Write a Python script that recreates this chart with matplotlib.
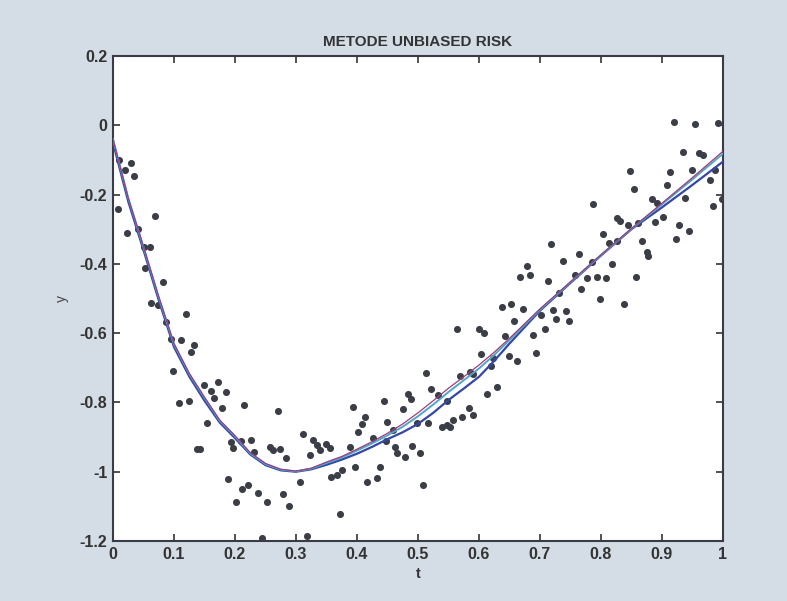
import numpy as np
import matplotlib
matplotlib.use("Agg")
import matplotlib.pyplot as plt

# noisy observations
t_obs = [0.009, 0.030, 0.019, 0.035, 0.008, 0.069, 0.023, 0.041, 0.051, 0.060,
         0.052, 0.082, 0.063, 0.073, 0.119, 0.087, 0.095, 0.111, 0.133, 0.128,
         0.098, 0.149, 0.172, 0.161, 0.166, 0.185, 0.178, 0.124, 0.108, 0.215,
         0.154, 0.137, 0.143, 0.193, 0.210, 0.197, 0.188, 0.212, 0.201,
         0.270, 0.394, 0.444, 0.413, 0.408, 0.402, 0.450, 0.227, 0.231, 0.312,
         0.257, 0.263, 0.273, 0.284, 0.328, 0.334, 0.339, 0.349, 0.355, 0.323,
         0.389, 0.426, 0.448, 0.307, 0.358, 0.367, 0.375, 0.397, 0.417, 0.432,
         0.437, 0.222, 0.238, 0.252, 0.278, 0.289, 0.372, 0.318, 0.244,
         0.637, 0.652, 0.657, 0.564, 0.600, 0.608, 0.643, 0.513, 0.603, 0.623,
         0.650, 0.662, 0.619, 0.569, 0.585, 0.591, 0.522, 0.533, 0.484, 0.488,
         0.475, 0.547, 0.630, 0.613, 0.583, 0.591, 0.572, 0.558, 0.539, 0.547,
         0.553, 0.459, 0.499, 0.517, 0.462, 0.465, 0.479, 0.491, 0.503, 0.508,
         0.787, 0.826, 0.831, 0.845, 0.861, 0.804, 0.718, 0.814, 0.827, 0.764,
         0.738, 0.785, 0.818, 0.679, 0.667, 0.684, 0.714, 0.757, 0.777, 0.794,
         0.808, 0.857, 0.768, 0.732, 0.798, 0.838, 0.673, 0.701, 0.722, 0.743,
         0.727, 0.748, 0.709, 0.688, 0.693,
         0.919, 0.954, 0.992, 0.934, 0.960, 0.968, 0.848, 0.914, 0.950, 0.987,
         0.978, 0.908, 0.854, 0.938, 0.998, 0.983, 0.883, 0.892, 0.901, 0.889,
         0.928, 0.945, 0.923, 0.868, 0.875, 0.877]
y_obs = [-0.100, -0.110, -0.129, -0.146, -0.243, -0.262, -0.310, -0.298, -0.350, -0.352,
         -0.413, -0.451, -0.512, -0.519, -0.545, -0.569, -0.616, -0.620, -0.635, -0.655,
         -0.708, -0.750, -0.742, -0.767, -0.786, -0.771, -0.815, -0.795, -0.803, -0.807,
         -0.860, -0.935, -0.935, -0.915, -0.911, -0.932, -1.021, -1.050, -1.087,
         -0.825, -0.812, -0.796, -0.841, -0.862, -0.885, -0.856, -0.909, -0.942, -0.892,
         -0.928, -0.937, -0.935, -0.961, -0.909, -0.923, -0.937, -0.921, -0.932, -0.952,
         -0.928, -0.904, -0.911, -1.029, -1.015, -1.010, -0.995, -0.987, -1.031, -1.019,
         -0.987, -1.038, -1.062, -1.088, -1.064, -1.099, -1.122, -1.186, -1.192,
         -0.524, -0.516, -0.564, -0.588, -0.589, -0.600, -0.608, -0.714, -0.660, -0.671,
         -0.666, -0.680, -0.695, -0.724, -0.711, -0.718, -0.762, -0.779, -0.776, -0.791,
         -0.820, -0.795, -0.756, -0.777, -0.817, -0.836, -0.843, -0.851, -0.870, -0.865,
         -0.872, -0.880, -0.858, -0.858, -0.928, -0.945, -0.957, -0.925, -0.947, -1.038,
         -0.227, -0.269, -0.275, -0.288, -0.281, -0.314, -0.343, -0.341, -0.333, -0.372,
         -0.392, -0.394, -0.400, -0.406, -0.437, -0.432, -0.449, -0.432, -0.442, -0.437,
         -0.442, -0.437, -0.473, -0.485, -0.502, -0.516, -0.530, -0.548, -0.533, -0.535,
         -0.559, -0.564, -0.589, -0.605, -0.658,
         0.010, 0.004, 0.007, -0.076, -0.081, -0.086, -0.132, -0.134, -0.129, -0.129,
         -0.158, -0.172, -0.185, -0.211, -0.214, -0.233, -0.214, -0.225, -0.264, -0.278,
         -0.289, -0.304, -0.329, -0.333, -0.365, -0.377]

# smooth curves (true function and two estimates)
t_fit = [0, 0.025, 0.05, 0.075, 0.1, 0.125, 0.15, 0.175, 0.2, 0.225, 0.25, 0.275,
         0.3, 0.325, 0.35, 0.375, 0.4, 0.425, 0.45, 0.475, 0.5, 0.525, 0.55, 0.575,
         0.6, 0.625, 0.65, 0.7, 0.75, 0.8, 0.85, 0.9, 0.95, 1.0]
y_true = [-0.04, -0.21, -0.35, -0.495, -0.63, -0.716, -0.785, -0.851, -0.896, -0.945, -0.976, -0.993,
          -0.998, -0.990, -0.972, -0.956, -0.935, -0.913, -0.889, -0.862, -0.830, -0.795, -0.759, -0.726,
          -0.692, -0.655, -0.615, -0.530, -0.452, -0.374, -0.298, -0.225, -0.151, -0.075]
y_est1 = [-0.04, -0.21, -0.352, -0.497, -0.632, -0.718, -0.787, -0.853, -0.898, -0.947, -0.978, -0.994,
          -0.999, -0.991, -0.975, -0.959, -0.939, -0.918, -0.895, -0.870, -0.840, -0.806, -0.770, -0.736,
          -0.702, -0.663, -0.620, -0.532, -0.453, -0.375, -0.299, -0.228, -0.156, -0.082]
y_est2 = [-0.05, -0.22, -0.36, -0.505, -0.64, -0.725, -0.795, -0.858, -0.903, -0.950, -0.981, -0.996,
          -1.000, -0.993, -0.980, -0.965, -0.948, -0.928, -0.906, -0.886, -0.862, -0.830, -0.793, -0.760,
          -0.726, -0.680, -0.630, -0.535, -0.455, -0.376, -0.300, -0.237, -0.172, -0.105]

plt.rcParams['font.family'] = ['Liberation Sans Narrow', 'Liberation Sans', 'DejaVu Sans']

fig = plt.figure(figsize=(7.87, 6.01), dpi=100)
fig.patch.set_facecolor('#d4dde5')
ax = fig.add_axes([0.1436, 0.0998, 0.775, 0.807])
ax.set_facecolor('white')

ax.scatter(t_obs, y_obs, s=26, color='#3b3e46', zorder=2, linewidths=0)
ax.plot(t_fit, y_est2, color='#3446a6', lw=1.6, zorder=3)
ax.plot(t_fit, y_est1, color='#52a4cc', lw=1.4, zorder=4)
ax.plot(t_fit, y_true, color='#9a3f78', lw=0.9, zorder=5)

ax.set_xlim(0, 1)
ax.set_ylim(-1.2, 0.2)
xt = np.round(np.arange(0, 1.01, 0.1), 1)
yt = np.round(np.arange(-1.2, 0.21, 0.2), 1)
ax.set_xticks(xt)
ax.set_xticklabels(['0' if v == 0 else ('1' if v == 1 else f'{v:.1f}') for v in xt])
ax.set_yticks(yt)
ax.set_yticklabels(['0' if v == 0 else (f'{v:.0f}' if v == int(v) else f'{v:.1f}') for v in yt])
ax.tick_params(direction='in', top=True, right=True, length=5, width=1.2,
               labelsize=11.5, colors='#333333', pad=4)
for lbl in ax.get_xticklabels() + ax.get_yticklabels():
    lbl.set_fontweight('bold')
for sp in ax.spines.values():
    sp.set_linewidth(1.5)
    sp.set_color('#3a3a48')

ax.set_title('METODE UNBIASED RISK', fontsize=11, fontweight='bold', color='#333333', pad=7)
ax.set_xlabel('t', fontsize=10.5, fontweight='bold', color='#333333', labelpad=4)
ax.set_ylabel('y', fontsize=10, color='#444444', labelpad=8)

fig.savefig('out.png', dpi=100, facecolor=fig.get_facecolor())
